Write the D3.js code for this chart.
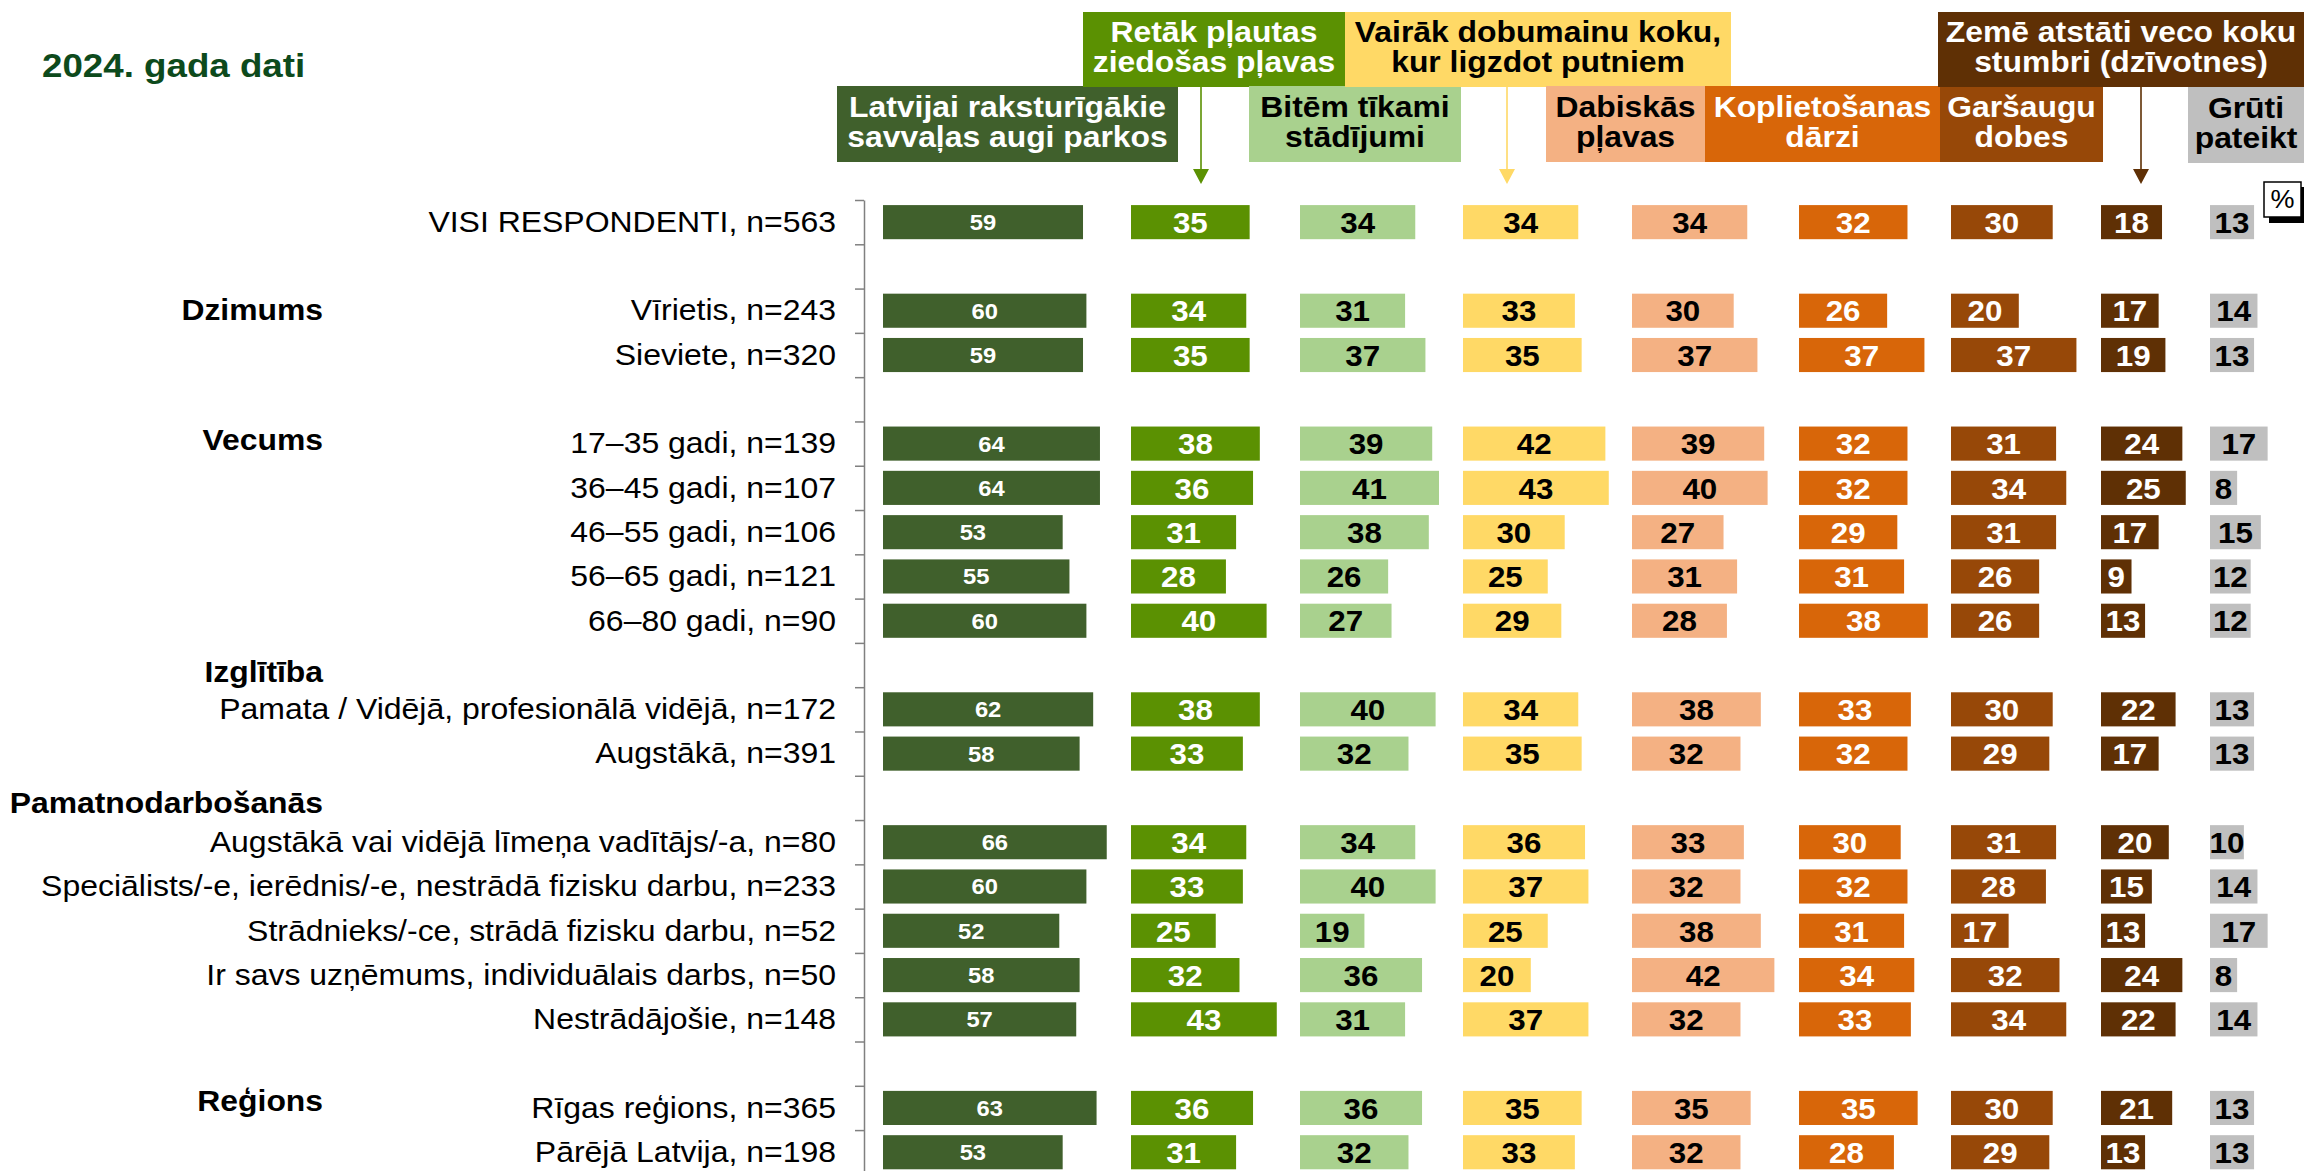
<!DOCTYPE html>
<html>
<head>
<meta charset="utf-8">
<script src="https://cdn.jsdelivr.net/npm/d3@7"></script>
<style>
body{margin:0;background:#fff;}
svg{display:block;font-family:"Liberation Sans",Arial,sans-serif;}
</style>
</head>
<body>
<svg id="chart" width="2304" height="1171"></svg>
<script>
//Data
const title = '2024. gada dati';
const groupNames = ['', 'Dzimums', 'Vecums', 'Izglītība', 'Pamatnodarbošanās', 'Reģions'];
const rowLabels = [
  'VISI RESPONDENTI, n=563',
  'Vīrietis, n=243',
  'Sieviete, n=320',
  '17–35 gadi, n=139',
  '36–45 gadi, n=107',
  '46–55 gadi, n=106',
  '56–65 gadi, n=121',
  '66–80 gadi, n=90',
  'Pamata / Vidējā, profesionālā vidējā, n=172',
  'Augstākā, n=391',
  'Augstākā vai vidējā līmeņa vadītājs/-a, n=80',
  'Speciālists/-e, ierēdnis/-e, nestrādā fizisku darbu, n=233',
  'Strādnieks/-ce, strādā fizisku darbu, n=52',
  'Ir savs uzņēmums, individuālais darbs, n=50',
  'Nestrādājošie, n=148',
  'Rīgas reģions, n=365',
  'Pārējā Latvija, n=198'
];
const rowGroup = [0, 1, 1, 2, 2, 2, 2, 2, 3, 3, 4, 4, 4, 4, 4, 5, 5];

const seriesNames = [
  ['Latvijai raksturīgākie', 'savvaļas augi parkos'],
  ['Retāk pļautas', 'ziedošas pļavas'],
  ['Bitēm tīkami', 'stādījumi'],
  ['Vairāk dobumainu koku,', 'kur ligzdot putniem'],
  ['Dabiskās', 'pļavas'],
  ['Koplietošanas', 'dārzi'],
  ['Garšaugu', 'dobes'],
  ['Zemē atstāti veco koku', 'stumbri (dzīvotnes)'],
  ['Grūti', 'pateikt']
];
const savvalasAugi      = [59, 60, 59, 64, 64, 53, 55, 60, 62, 58, 66, 60, 52, 58, 57, 63, 53];
const retakPlautas      = [35, 34, 35, 38, 36, 31, 28, 40, 38, 33, 34, 33, 25, 32, 43, 36, 31];
const bitemTikami       = [34, 31, 37, 39, 41, 38, 26, 27, 40, 32, 34, 40, 19, 36, 31, 36, 32];
const dobumainiKoki     = [34, 33, 35, 42, 43, 30, 25, 29, 34, 35, 36, 37, 25, 20, 37, 35, 33];
const dabiskasPlavas    = [34, 30, 37, 39, 40, 27, 31, 28, 38, 32, 33, 32, 38, 42, 32, 35, 32];
const koplietosanasDarzi= [32, 26, 37, 32, 32, 29, 31, 38, 33, 32, 30, 32, 31, 34, 33, 35, 28];
const garsauguDobes     = [30, 20, 37, 31, 34, 31, 26, 26, 30, 29, 31, 28, 17, 32, 34, 30, 29];
const vecoKokuStumbri   = [18, 17, 19, 24, 25, 17, 9, 13, 22, 17, 20, 15, 13, 24, 22, 21, 13];
const grutiPateikt      = [13, 14, 13, 17, 8, 15, 12, 12, 13, 13, 10, 14, 17, 8, 14, 13, 13];
const seriesValues = [savvalasAugi, retakPlautas, bitemTikami, dobumainiKoki, dabiskasPlavas,
                      koplietosanasDarzi, garsauguDobes, vecoKokuStumbri, grutiPateikt];

//Layout / style
const S = 1.08; // horizontal text stretch of the original
const colX = [883, 1131, 1300, 1463, 1632, 1799, 1951, 2101, 2210];
const colColor = ['#40602c', '#5b9102', '#a9d18e', '#ffd966', '#f4b183', '#d86609', '#974808', '#5f3005', '#bfbfbf'];
const colText = ['#fff', '#fff', '#000', '#000', '#000', '#fff', '#fff', '#fff', '#000'];
const legendBox = [
  [837, 1178, 86, 162], [1083, 1345, 12, 87], [1249, 1461, 86, 162], [1345, 1731, 12, 87],
  [1546, 1705, 86, 162], [1705, 1940, 86, 162], [1940, 2103, 86, 162], [1938, 2304, 12, 87],
  [2188, 2304, 87, 163]
];
const arrows = [{s: 1, x: 1201}, {s: 3, x: 1507}, {s: 7, x: 2141}];
const headerShift = [0, 0, 0, -1, -1, 0];
const headerDy = [0, 0, -3, 7, 5, -7];

const svg = d3.select('#chart');

function addText(g, x, y, str, size, weight, fill, anchor) {
  return g.append('text')
    .attr('transform', `translate(${x},${y}) scale(${S},1)`)
    .attr('text-anchor', anchor || 'start')
    .style('font-size', size + 'px')
    .style('font-weight', weight)
    .attr('fill', fill)
    .text(str);
}

// slots: every new group gets one empty slot before it
const rowSlot = rowLabels.map((d, i) => i + rowGroup[i]);
const nSlots = d3.max(rowSlot) + 1;
const step = 44.29;
const topY = 200;

const y = d3.scaleBand().domain(d3.range(nSlots))
  .range([topY, topY + nSlots * step])
  .paddingInner(0.23).paddingOuter(0.115);
const x = d3.scaleLinear().domain([0, 100]).range([0, 339]);

// title
addText(svg, 42, 77, title, 34, 'bold', '#0d4a1c');

// legend boxes
const legend = svg.append('g').attr('class', 'legend');
seriesNames.forEach((lines, i) => {
  const [x0, x1, y0, y1] = legendBox[i];
  legend.append('rect').attr('x', x0).attr('y', y0)
    .attr('width', x1 - x0).attr('height', y1 - y0).attr('fill', colColor[i]);
  const cx = (x0 + x1) / 2, cy = (y0 + y1) / 2;
  addText(legend, cx, cy - 7.5, lines[0], 29.5, 'bold', colText[i], 'middle');
  addText(legend, cx, cy + 22.5, lines[1], 29.5, 'bold', colText[i], 'middle');
});

// arrows
arrows.forEach(a => {
  const y0 = legendBox[a.s][3];
  legend.append('line').attr('x1', a.x).attr('x2', a.x)
    .attr('y1', y0).attr('y2', 171)
    .attr('stroke', colColor[a.s]).attr('stroke-width', 2).attr('opacity', 0.8);
  legend.append('path')
    .attr('d', `M${a.x - 8},169 L${a.x + 8},169 L${a.x},184 Z`)
    .attr('fill', colColor[a.s]);
});

// % box
legend.append('rect').attr('x', 2269).attr('y', 187).attr('width', 37).attr('height', 36).attr('fill', '#000');
legend.append('rect').attr('x', 2264).attr('y', 182).attr('width', 37).attr('height', 35)
  .attr('fill', '#fff').attr('stroke', '#000').attr('stroke-width', 1.5);
addText(legend, 2282.5, 208, '%', 25, 'normal', '#000', 'middle');

// axis
const yAxisScale = d3.scaleLinear().domain([0, nSlots]).range([topY, topY + nSlots * step]);
const yAxis = d3.axisLeft(yAxisScale).tickValues(d3.range(nSlots + 1))
  .tickFormat('').tickSize(9).tickSizeOuter(0);
const yAxisDraw = svg.append('g').attr('class', 'yaxis')
  .attr('transform', 'translate(864,0)').call(yAxis);
yAxisDraw.selectAll('path,line').attr('stroke', '#808080').attr('stroke-width', 1.5);

// row labels
const labels = svg.append('g').attr('class', 'row-labels');
rowLabels.forEach((d, i) => {
  const cy = y(rowSlot[i]) + y.bandwidth() / 2;
  addText(labels, 836, cy, d, 29.6, 'normal', '#000', 'end').attr('dy', '0.33em');
});

// group headers
groupNames.forEach((g, gi) => {
  if (!g) return;
  const first = rowGroup.indexOf(gi);
  const slot = rowSlot[first] + headerShift[gi];
  const cy = y(slot) + y.bandwidth() / 2 + headerDy[gi];
  addText(labels, 323, cy, g, 29.5, 'bold', '#000', 'end').attr('dy', '0.33em');
});

// bars
seriesValues.forEach((vals, j) => {
  const g = svg.append('g').attr('class', 'series-' + j);
  g.selectAll('rect').data(vals).enter().append('rect')
    .attr('x', colX[j])
    .attr('y', (d, i) => y(rowSlot[i]))
    .attr('width', d => x(d))
    .attr('height', y.bandwidth())
    .attr('fill', colColor[j]);
  vals.forEach((v, i) => {
    const cy = y(rowSlot[i]) + y.bandwidth() / 2;
    addText(g, colX[j] + x(v) / 2, cy, v, j === 0 ? 22 : 29, 'bold', colText[j], 'middle')
      .attr('dy', j === 0 ? '0.36em' : '0.37em');
  });
});
</script>
</body>
</html>
